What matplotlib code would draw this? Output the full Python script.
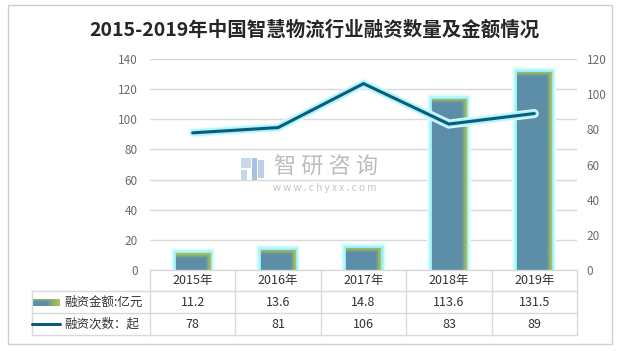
import matplotlib
matplotlib.use('Agg')
import matplotlib.pyplot as plt
import numpy as np
from matplotlib import patheffects as pe
from matplotlib.lines import Line2D
from matplotlib.patches import Rectangle
import matplotlib.transforms as mtransforms

plt.rcParams['font.family'] = ['Noto Sans CJK SC', 'DejaVu Sans']

# ---------------- data ----------------
years = ['2015年', '2016年', '2017年', '2018年', '2019年']
amount = [11.2, 13.6, 14.8, 113.6, 131.5]
count = [78, 81, 106, 83, 89]
amount_labels = ['11.2', '13.6', '14.8', '113.6', '131.5']
count_labels = ['78', '81', '106', '83', '89']
series_names = ['融资金额:亿元', '融资次数：起']
title = '2015-2019年中国智慧物流行业融资数量及金额情况'
left_ticks = [0, 20, 40, 60, 80, 100, 120, 140]
right_ticks = [0, 20, 40, 60, 80, 100, 120]

# ---------------- style ----------------
W, H = 620, 351
BLUE = np.array([0x5c, 0x8e, 0xa8]) / 255
GREEN = np.array([0xb4, 0xc8, 0x4a]) / 255
LINE_C = '#0b5b79'
GRID_C = '#d9d9d9'
TICK_C = '#6b6b6b'
TEXT_C = '#333333'


def fx(px):
    return px / W


def fy(py):
    return 1 - py / H


fig = plt.figure(figsize=(W / 100, H / 100), dpi=100)
fig.patch.set_facecolor('white')

# outer border
fig.add_artist(Rectangle((fx(7.5), fy(343.5)), fx(612) - fx(7.5), fy(4.5) - fy(343.5),
                         transform=fig.transFigure, fill=False, edgecolor='#cfcfcf', lw=1))

ax_l, ax_r, ax_t, ax_b = 150, 577, 59, 270
ax = fig.add_axes([fx(ax_l), fy(ax_b), fx(ax_r) - fx(ax_l), fy(ax_t) - fy(ax_b)])
ax2 = ax.twinx()

x = np.arange(len(years))
ax.set_xlim(-0.5, len(years) - 0.5)
ax.set_ylim(0, 140)
ax2.set_ylim(0, 120)
ax.set_yticks(left_ticks)
ax2.set_yticks(right_ticks)
ax.set_xticks([])
for a in (ax, ax2):
    for s in a.spines.values():
        s.set_visible(False)
    a.tick_params(axis='both', length=0, labelsize=8.5, labelcolor=TICK_C)
ax.tick_params(axis='y', pad=9)
ax2.tick_params(axis='y', pad=7)
ax.yaxis.grid(True, color=GRID_C, lw=1)
ax.set_axisbelow(True)
ax.patch.set_visible(False)


def grad_img(nx, ny, top=5.0, right=5.0):
    cols = np.arange(nx) + 0.5
    rows = np.arange(ny) + 0.5
    dr = (nx - cols)[None, :]
    dt = rows[:, None]
    tr = np.clip(1 - dr / right, 0, 1)
    tt = np.clip(1 - dt / top, 0, 1)
    t = np.maximum(tr, tt) ** 0.9
    img = BLUE[None, None, :] * (1 - t[..., None]) + GREEN[None, None, :] * t[..., None]
    return img


bar_w = 0.4
glow = [pe.Stroke(linewidth=7, foreground='#e6fcff'),
        pe.Stroke(linewidth=4.5, foreground='#b8f5fd'),
        pe.Stroke(linewidth=2.5, foreground='#93eefa'),
        pe.Normal()]
bars = ax.bar(x, amount, width=bar_w, color=BLUE, zorder=2, linewidth=0, path_effects=glow)

px_per_x = (ax_r - ax_l) / (len(years))
px_per_y = (ax_b - ax_t) / 140
for xi, v, b in zip(x, amount, bars):
    nx = max(int(round(bar_w * px_per_x)), 2)
    ny = max(int(round(v * px_per_y)), 2)
    im = ax.imshow(grad_img(nx, ny), extent=(xi - bar_w / 2, xi + bar_w / 2, 0, v),
                   aspect='auto', zorder=3, interpolation='bilinear')
    im.set_clip_path(b)
ax.set_xlim(-0.5, len(years) - 0.5)
ax.set_ylim(0, 140)

line_glow = [pe.Stroke(linewidth=6.5, foreground='#e2fcff'),
             pe.Stroke(linewidth=4.8, foreground='#aef3fc'),
             pe.Normal()]
ax2.plot(x, count, color=LINE_C, lw=2.2, zorder=5, path_effects=line_glow,
         solid_capstyle='round', solid_joinstyle='miter')

# watermark
fig.text(fx(326), fy(167), '智 研 咨 询', fontsize=16, color='#bdbdbd',
         ha='center', va='center', zorder=1)
fig.text(fx(325), fy(188), 'w w w . c h y x x . c o m', fontsize=7.2, color='#c4c4c4',
         ha='center', va='center', zorder=1)
for (x0, y0, w0, h0, c) in [(241, 158, 10, 10, '#c9d6e6'), (241, 170, 6, 10, '#c9d6e6'),
                            (252, 158, 5, 22, '#a9c1de'), (258, 160, 6, 18, '#bcd0e6')]:
    fig.add_artist(Rectangle((fx(x0), fy(y0 + h0)), fx(w0), h0 / H,
                             transform=fig.transFigure, color=c, lw=0, zorder=1))

# title
fig.text(fx(314), fy(30), title, fontsize=14, fontweight='bold', color='#262626',
         ha='center', va='center')

# ---------------- data table ----------------
tr = mtransforms.blended_transform_factory(ax.transData, fig.transFigure)
row_y = [270, 291, 313, 335]
leg_l = 32


def hline(x0, x1, y, trans):
    fig.add_artist(Line2D([x0, x1], [fy(y), fy(y)], transform=trans, color=GRID_C, lw=1))


def vline(xv, y0, y1, trans):
    fig.add_artist(Line2D([xv, xv], [fy(y0), fy(y1)], transform=trans, color=GRID_C, lw=1))


hline(fx(ax_l), fx(ax_r), row_y[0], fig.transFigure)
for yy in row_y[1:]:
    hline(fx(leg_l), fx(ax_r), yy, fig.transFigure)
vline(fx(leg_l), row_y[1], row_y[3], fig.transFigure)
for i in range(len(years) + 1):
    vline(i - 0.5, row_y[0], row_y[3], tr)

for i in range(len(years)):
    fig.text(i, fy((row_y[0] + row_y[1]) / 2), years[i], transform=tr, ha='center',
             va='center', fontsize=9, color=TEXT_C)
    fig.text(i, fy((row_y[1] + row_y[2]) / 2), amount_labels[i], transform=tr, ha='center',
             va='center', fontsize=9, color=TEXT_C)
    fig.text(i, fy((row_y[2] + row_y[3]) / 2), count_labels[i], transform=tr, ha='center',
             va='center', fontsize=9, color=TEXT_C)

# legend keys
lax = fig.add_axes([fx(33), fy(306), fx(60) - fx(33), (306 - 299) / H])
lax.imshow(grad_img(27, 7, top=3, right=14), aspect='auto', interpolation='bilinear')
lax.axis('off')
fig.add_artist(Line2D([fx(32), fx(60)], [fy(324), fy(324)], transform=fig.transFigure,
                      color=LINE_C, lw=2.2, solid_capstyle='round'))
fig.text(fx(64), fy(302), series_names[0], fontsize=9, color=TEXT_C, ha='left', va='center')
fig.text(fx(64), fy(324), series_names[1], fontsize=9, color=TEXT_C, ha='left', va='center')

fig.savefig('out.png', dpi=100)
